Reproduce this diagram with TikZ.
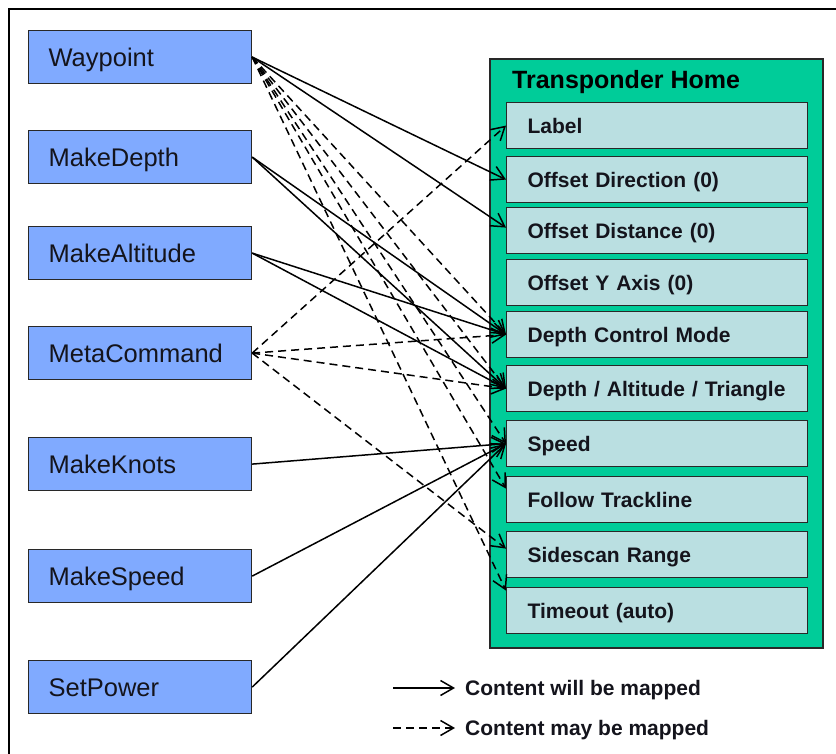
\documentclass[tikz,border=0pt]{standalone}
\usepackage{fontspec}
\setmainfont{Liberation Sans}
\usetikzlibrary{arrows.meta}

\definecolor{srcblue}{RGB}{128,170,255}
\definecolor{panelgreen}{RGB}{0,204,153}
\definecolor{fieldfill}{RGB}{186,223,225}
\definecolor{ink}{RGB}{20,20,28}
\definecolor{edge}{RGB}{40,40,40}

\newcommand{\srcfont}{\fontsize{25.5}{30}\selectfont}
\newcommand{\fieldfont}{\fontsize{21}{25}\selectfont\bfseries}
\newcommand{\titlefont}{\fontsize{25}{30}\selectfont\bfseries}

\tikzset{
  srcbox/.style={draw=edge, line width=1.2pt, fill=srcblue, anchor=north west,
    minimum height=53pt, inner xsep=20pt, inner ysep=0pt, text width=183pt,
    align=left, font=\srcfont, text=ink, text height=18.3pt, text depth=0pt},
  fieldbox/.style={draw=edge, line width=1.2pt, fill=fieldfill, anchor=north west,
    minimum height=46pt, inner xsep=21pt, inner ysep=0pt, text width=259pt,
    align=left, font=\fieldfont, text=ink, text height=15pt, text depth=0pt},
  tip/.style={-{Straight Barb[length=13pt,width=15pt]}},
  will/.style={draw=black, line width=1.5pt, tip},
  may/.style={draw=black, line width=1.5pt, dash pattern=on 8pt off 5pt, tip},
}

\begin{document}
\begin{tikzpicture}[x=1pt, y=-1pt]
  \useasboundingbox (0,0) rectangle (836,754);
  \fill[white] (0,0) rectangle (836,754);

  % outer frame (top and left edges)
  \draw[line width=2.2pt] (9,754) -- (9,9) -- (836,9);

  % commands on the left
  \node[srcbox] (wp) at (28,30)  {Waypoint};
  \node[srcbox] (md) at (28,130) {MakeDepth};
  \node[srcbox] (ma) at (28,226) {MakeAltitude};
  \node[srcbox] (mc) at (28,326) {MetaCommand};
  \node[srcbox] (mk) at (28,437) {MakeKnots};
  \node[srcbox] (ms) at (28,549) {MakeSpeed};
  \node[srcbox] (sp) at (28,660) {SetPower};

  % Transponder Home panel
  \filldraw[fill=panelgreen, draw=edge, line width=1.4pt] (490,59) rectangle (823,648);
  \node[anchor=west, font=\titlefont, text=black, inner sep=0pt,
        text height=18pt, text depth=0pt] (title) at (512,80) {Transponder Home};

  \node[fieldbox] (lab)  at (506,102) {Label};
  \node[fieldbox] (odir) at (506,156) {Offset Direction (0)};
  \node[fieldbox] (odis) at (506,207) {Offset Distance (0)};
  \node[fieldbox] (oy)   at (506,259) {Offset Y Axis (0)};
  \node[fieldbox] (dcm)  at (506,311) {Depth Control Mode};
  \node[fieldbox] (dat)  at (506,365) {Depth / Altitude / Triangle};
  \node[fieldbox] (spd)  at (506,420) {Speed};
  \node[fieldbox] (ft)   at (506,476) {Follow Trackline};
  \node[fieldbox] (sr)   at (506,531) {Sidescan Range};
  \node[fieldbox] (to)   at (506,587) {Timeout (auto)};

  % mappings that may apply
  \draw[may] (wp.east) -- (dcm.west);
  \draw[may] (wp.east) -- (dat.west);
  \draw[may] (wp.east) -- (spd.west);
  \draw[may] (wp.east) -- ([yshift=11pt]ft.west);
  \draw[may] (wp.east) -- ([yshift=20pt]to.west);
  \draw[may] (mc.east) -- (lab.west);
  \draw[may] (mc.east) -- (dcm.west);
  \draw[may] (mc.east) -- (dat.west);
  \draw[may] (mc.east) -- ([yshift=6pt]sr.west);

  % mappings that always apply
  \draw[will] (wp.east) -- (odir.west);
  \draw[will] (wp.east) -- ([yshift=3pt]odis.west);
  \draw[will] (md.east) -- (dcm.west);
  \draw[will] (md.east) -- (dat.west);
  \draw[will] (ma.east) -- (dcm.west);
  \draw[will] (ma.east) -- (dat.west);
  \draw[will] (mk.east) -- (spd.west);
  \draw[will] (ms.east) -- (spd.west);
  \draw[will] (sp.east) -- (spd.west);

  % legend
  \coordinate (l1a) at (393,688);
  \coordinate (l1b) at (455,688);
  \coordinate (l2a) at (393,728);
  \coordinate (l2b) at (455,728);
  \draw[will] (l1a) -- (l1b);
  \draw[may]  (l2a) -- (l2b);
  \node[anchor=west, font=\fieldfont, text=ink, inner sep=0pt, text height=15pt,
        text depth=0pt] (lg1) at (465,688) {Content will be mapped};
  \node[anchor=west, font=\fieldfont, text=ink, inner sep=0pt, text height=15pt,
        text depth=0pt] (lg2) at (465,728) {Content may be mapped};
\end{tikzpicture}
\end{document}
